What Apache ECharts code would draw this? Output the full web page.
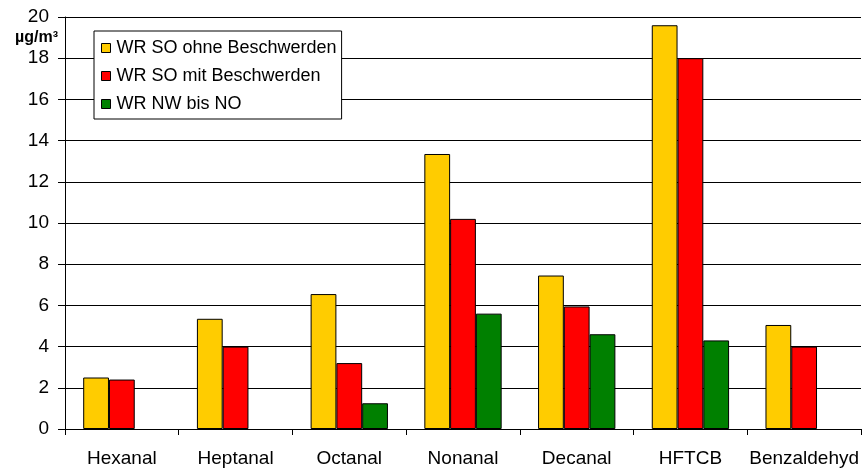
<!DOCTYPE html>
<html><head><meta charset="utf-8">
<script src="https://cdn.jsdelivr.net/npm/echarts@6/dist/echarts.min.js"></script>
<style>html,body{margin:0;padding:0;background:#fff}#c{width:864px;height:470px}</style>
</head><body><div id="c"></div>
<script>
const categories = ['Hexanal','Heptanal','Octanal','Nonanal','Decanal','HFTCB','Benzaldehyd'];
const seriesNames = ['WR SO ohne Beschwerden','WR SO mit Beschwerden','WR NW bis NO'];
const soOhne = [2.5, 5.35, 6.55, 13.35, 7.45, 19.6, 5.05];
const soMit = [2.4, 4.0, 3.2, 10.2, 5.95, 18.0, 4.0];
const nwNo = [null, null, 1.25, 5.6, 4.6, 4.3, null];
const unitLabel = 'µg/m³';
const colors = ['#FFCC00','#FF0000','#008000'];

const chart = echarts.init(document.getElementById('c'), null, {renderer:'canvas'});
const font = 'Arial, "Liberation Sans", sans-serif';
chart.setOption({
  animation:false,
  textStyle:{fontFamily:font},
  grid:{left:65,right:3,top:17,bottom:41,containLabel:false},
  legend:{
    orient:'vertical', left:94, top:31,
    backgroundColor:'#fff', borderColor:'#000', borderWidth:1,
    padding:[8,5,6,7], itemGap:10, itemWidth:9, itemHeight:9,
    icon:'rect',
    itemStyle:{borderColor:'#000',borderWidth:1},
    textStyle:{fontSize:18,color:'#000',fontFamily:font,padding:[0,0,0,1]},
    data:seriesNames
  },
  xAxis:{
    type:'category', data:categories,
    axisLine:{lineStyle:{color:'#000',width:1}},
    axisTick:{show:true,interval:0,length:6,lineStyle:{color:'#000'}},
    axisLabel:{interval:0,fontSize:19,color:'#000',margin:20,fontFamily:font}
  },
  yAxis:{
    type:'value', min:0, max:20, interval:2,
    axisLine:{show:true,lineStyle:{color:'#000'}},
    axisTick:{show:true,length:7,lineStyle:{color:'#000'}},
    axisLabel:{fontSize:19,color:'#000',margin:16,fontFamily:font},
    splitLine:{lineStyle:{color:'#000',width:1}}
  },
  graphic:[{type:'text',right:864-58,top:30,style:{text:unitLabel,font:'bold 16px '+font,fill:'#000',textAlign:'right'}}],
  series:[
    {name:seriesNames[0],type:'bar',data:soOhne,barGap:'0%',barCategoryGap:'32%',itemStyle:{color:colors[0],borderColor:'#000',borderWidth:1}},
    {name:seriesNames[1],type:'bar',data:soMit,barGap:'0%',barCategoryGap:'32%',itemStyle:{color:colors[1],borderColor:'#000',borderWidth:1}},
    {name:seriesNames[2],type:'bar',data:nwNo,barGap:'0%',barCategoryGap:'32%',itemStyle:{color:colors[2],borderColor:'#000',borderWidth:1}}
  ]
});
</script></body></html>
